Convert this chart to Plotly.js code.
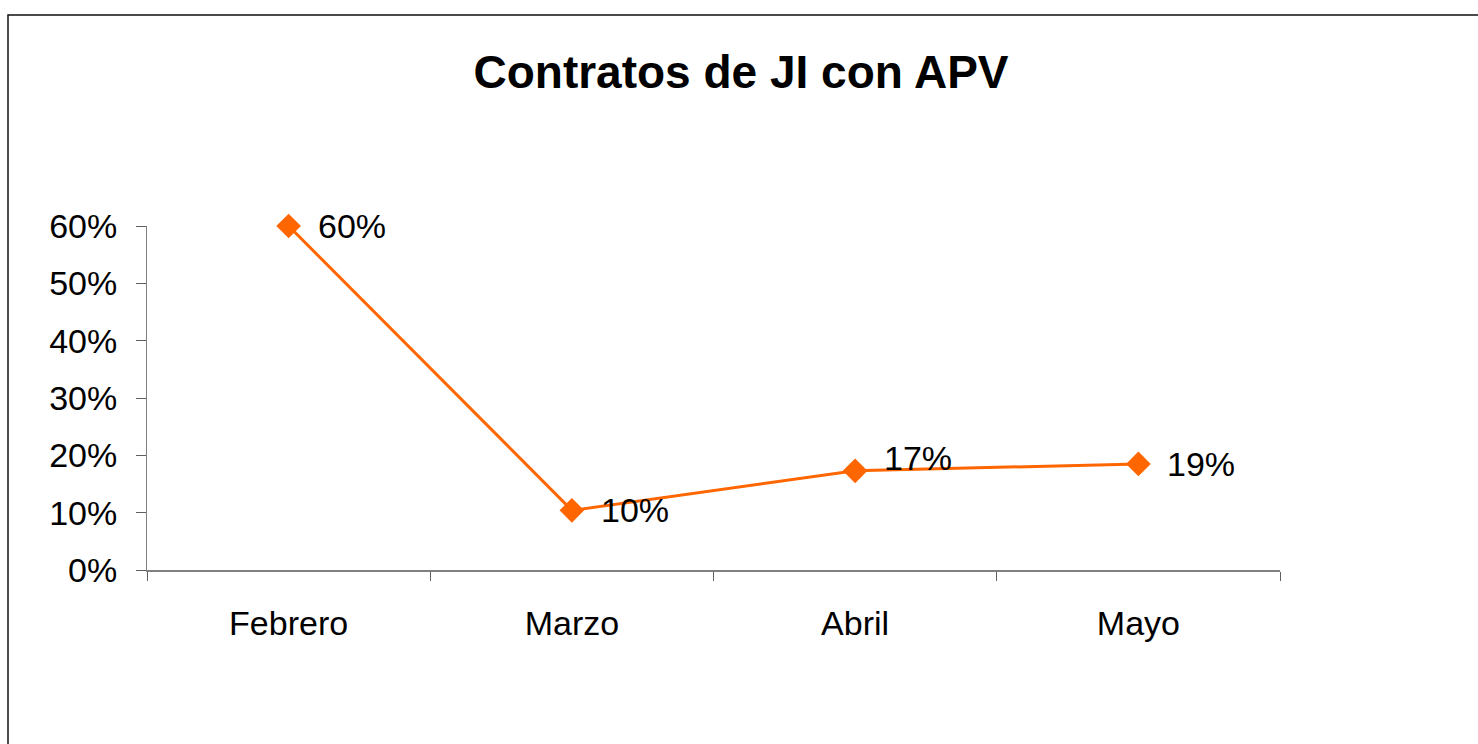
<!DOCTYPE html>
<html>
<head>
<meta charset="utf-8">
<script src="https://cdn.plot.ly/plotly-3.0.1.min.js"></script>
<style>
html,body{margin:0;padding:0;background:#fff;}
#chart{width:1478px;height:744px;}
</style>
</head>
<body>
<div id="chart"></div>
<script>
const chartTitle = "Contratos de JI con APV";
const months = ["Febrero", "Marzo", "Abril", "Mayo"];
const shares = [0.60, 0.104, 0.173, 0.185];
const yTickVals = [0, 0.1, 0.2, 0.3, 0.4, 0.5, 0.6];
const yTickText = ["0%", "10%", "20%", "30%", "40%", "50%", "60%"];

const W = 1478, H = 744;
const M = {l: 147, r: 198, t: 226, b: 174};
const plotW = W - M.l - M.r, plotH = H - M.t - M.b;
const px2x = p => (p - M.l) / plotW;
const py2y = p => (H - M.b - p) / plotH;

const orange = "#FF6600";
const fontFam = "'Liberation Sans', Arial, sans-serif";

const trace = {
  type: "scatter",
  mode: "lines+markers",
  x: months,
  y: shares,
  line: {color: orange, width: 3},
  marker: {symbol: "diamond", size: 19, color: orange},
  cliponaxis: false,
  hoverinfo: "x+y"
};

const labelAnnotations = months.map((m, i) => ({
  x: m,
  y: shares[i],
  xref: "x",
  yref: "y",
  text: Math.round(shares[i] * 100) + "%",
  showarrow: false,
  xanchor: "left",
  yanchor: "middle",
  xshift: 27,
  yshift: i === 2 ? 13 : 0,
  font: {family: fontFam, size: 34, color: "#000"}
}));

const layout = {
  width: W,
  height: H,
  margin: M,
  paper_bgcolor: "#fff",
  plot_bgcolor: "#fff",
  showlegend: false,
  title: {
    text: "<b>" + chartTitle + "</b>",
    font: {family: fontFam, size: 46, color: "#000"},
    x: 741 / W,
    xref: "container",
    xanchor: "center",
    y: 1 - 72 / H,
    yanchor: "middle"
  },
  xaxis: {
    type: "category",
    range: [-0.5, months.length - 0.5],
    showgrid: false,
    zeroline: false,
    showline: true,
    linecolor: "#808080",
    linewidth: 2,
    ticks: "outside",
    tickson: "boundaries",
    ticklen: 9,
    tickcolor: "#606060",
    tickwidth: 1,
    tickfont: {family: fontFam, size: 34, color: "#000"},
    ticklabelstandoff: 22,
    fixedrange: true
  },
  yaxis: {
    range: [0, 0.6],
    tickvals: yTickVals,
    ticktext: yTickText,
    showgrid: false,
    zeroline: false,
    showline: true,
    linecolor: "#808080",
    linewidth: 1,
    ticks: "outside",
    ticklen: 10,
    tickcolor: "#606060",
    tickwidth: 1,
    tickfont: {family: fontFam, size: 34, color: "#000"},
    ticklabelstandoff: 12,
    fixedrange: true
  },
  annotations: labelAnnotations,
  shapes: [
    {
      type: "path",
      xref: "paper",
      yref: "paper",
      path: "M " + px2x(8) + "," + py2y(H + 20) + " L " + px2x(8) + "," + py2y(15) + " L " + px2x(W + 20) + "," + py2y(15),
      line: {color: "#111", width: 1.5},
      layer: "above"
    }
  ]
};

Plotly.newPlot("chart", [trace], layout, {displayModeBar: false, staticPlot: true});
</script>
</body>
</html>
